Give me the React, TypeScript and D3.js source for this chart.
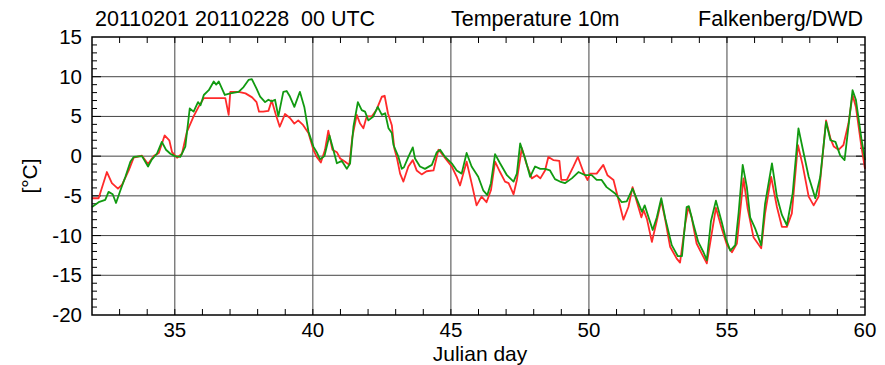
import React from 'react';
import * as d3 from 'd3';

const redDays = [32.0, 32.24, 32.54, 32.72, 32.94, 33.09, 33.33, 33.51, 33.81, 34.03, 34.23, 34.42, 34.63, 34.8, 34.9, 35.08, 35.26, 35.44, 35.68, 35.86, 36.05, 36.35, 36.59, 36.83, 36.95, 37.01, 37.31, 37.56, 37.8, 37.96, 38.05, 38.2, 38.39, 38.51, 38.66, 38.8, 38.99, 39.17, 39.33, 39.47, 39.65, 39.84, 40.02, 40.14, 40.29, 40.44, 40.56, 40.71, 40.87, 40.99, 41.17, 41.32, 41.43, 41.59, 41.71, 41.83, 41.95, 42.13, 42.3, 42.5, 42.6, 42.72, 42.86, 42.95, 43.05, 43.16, 43.28, 43.46, 43.62, 43.76, 43.94, 44.12, 44.37, 44.55, 44.67, 44.85, 45.03, 45.21, 45.33, 45.45, 45.57, 45.75, 45.93, 46.11, 46.29, 46.45, 46.6, 46.78, 46.96, 47.09, 47.27, 47.39, 47.57, 47.73, 47.93, 48.11, 48.24, 48.41, 48.53, 48.71, 48.93, 49.0, 49.2, 49.44, 49.6, 49.8, 49.95, 50.04, 50.28, 50.52, 50.67, 50.89, 51.07, 51.25, 51.43, 51.58, 51.74, 51.9, 51.98, 52.1, 52.28, 52.46, 52.62, 52.77, 52.94, 53.18, 53.3, 53.49, 53.6, 53.72, 53.9, 54.09, 54.27, 54.45, 54.6, 54.81, 55.0, 55.18, 55.36, 55.6, 55.75, 55.96, 56.24, 56.38, 56.6, 56.81, 56.99, 57.17, 57.35, 57.57, 57.74, 57.96, 58.14, 58.32, 58.59, 58.75, 58.87, 59.04, 59.22, 59.4, 59.55, 59.67, 59.87, 60.0];
const redTemp = [-5.3, -5.3, -2.0, -3.4, -4.1, -3.6, -1.8, -0.2, 0.05, -1.0, 0, 0.4, 2.6, 2.0, 0.5, -0.2, 0.3, 3.1, 5.0, 6.2, 7.3, 7.3, 7.3, 7.3, 5.2, 8.1, 8.1, 7.9, 7.4, 6.8, 5.6, 5.6, 5.7, 7.0, 5.2, 3.7, 5.3, 4.8, 4.1, 4.5, 3.9, 2.9, 0.8, -0.1, -0.8, 0.8, 3.2, 0.8, 0.5, -0.3, -0.7, -1.1, 2.4, 5.2, 4.1, 3.5, 5.0, 5.0, 5.8, 7.5, 7.6, 5.4, 3.9, 1.0, -0.3, -2.2, -3.2, -1.3, -0.5, -1.8, -2.3, -1.9, -1.8, 0.8, 0.3, -0.5, -1.3, -2.6, -3.7, -2.2, -0.7, -3.4, -6.2, -5.1, -5.8, -4.3, -0.7, -2.0, -3.2, -3.4, -4.8, -3.0, 1.0, -0.9, -2.8, -2.4, -2.8, -1.8, -0.1, -0.5, -0.6, -3.0, -3.0, -1.3, -0.1, -2.0, -3.0, -2.2, -2.2, -1.1, -2.4, -3.0, -5.5, -8.0, -6.4, -3.9, -5.8, -7.7, -6.8, -7.9, -10.8, -8.1, -5.6, -8.1, -11.4, -12.9, -13.4, -8.5, -6.4, -7.7, -11.0, -12.3, -13.5, -9.7, -6.5, -9.1, -11.2, -12.1, -11.0, -2.8, -6.6, -10.2, -11.6, -7.2, -2.6, -6.4, -8.9, -8.9, -7.2, 1.4, -1.1, -5.1, -6.2, -5.1, 4.5, 2.2, 1.2, 0.8, 1.4, 4.1, 7.7, 6.2, 1.2, -1.6];

const greenDays = [32.0, 32.24, 32.48, 32.6, 32.75, 32.87, 33.03, 33.21, 33.39, 33.51, 33.81, 34.03, 34.17, 34.35, 34.53, 34.68, 34.84, 35.0, 35.2, 35.38, 35.54, 35.68, 35.84, 35.93, 36.05, 36.23, 36.41, 36.5, 36.59, 36.81, 37.01, 37.31, 37.49, 37.67, 37.79, 37.96, 38.09, 38.27, 38.39, 38.51, 38.63, 38.75, 38.93, 39.05, 39.17, 39.33, 39.53, 39.69, 39.84, 40.02, 40.14, 40.26, 40.42, 40.6, 40.71, 40.87, 41.05, 41.23, 41.35, 41.47, 41.63, 41.77, 41.89, 42.01, 42.19, 42.35, 42.5, 42.62, 42.74, 42.86, 42.92, 43.1, 43.22, 43.3, 43.46, 43.62, 43.7, 43.88, 44.06, 44.31, 44.49, 44.61, 44.79, 45.03, 45.21, 45.39, 45.57, 45.75, 45.99, 46.17, 46.32, 46.45, 46.6, 46.78, 47.03, 47.27, 47.39, 47.51, 47.69, 47.87, 48.05, 48.24, 48.41, 48.59, 48.77, 48.95, 49.13, 49.38, 49.62, 49.87, 50.1, 50.28, 50.46, 50.64, 50.95, 51.19, 51.37, 51.58, 51.78, 51.92, 52.02, 52.16, 52.31, 52.46, 52.62, 52.77, 53.0, 53.22, 53.37, 53.54, 53.62, 53.78, 53.96, 54.15, 54.27, 54.42, 54.6, 54.81, 54.96, 55.12, 55.3, 55.42, 55.57, 55.72, 55.84, 56.02, 56.24, 56.38, 56.63, 56.81, 56.99, 57.17, 57.38, 57.59, 57.74, 57.96, 58.2, 58.38, 58.59, 58.75, 58.93, 59.1, 59.26, 59.4, 59.55, 59.67, 59.87, 60.0];
const greenTemp = [-6.4, -5.8, -5.5, -4.5, -4.8, -5.9, -4.3, -2.6, -0.7, -0.1, 0, -1.3, -0.4, 0.3, 1.8, 0.8, 0.3, 0, -0.1, 1.2, 6.0, 5.6, 6.8, 6.4, 7.7, 8.3, 9.4, 9.0, 9.4, 7.7, 7.9, 8.1, 8.7, 9.6, 9.7, 8.5, 7.5, 6.8, 7.1, 6.9, 7.1, 5.0, 8.1, 8.2, 7.5, 6.2, 8.1, 6.2, 3.1, 1.2, 0.5, -0.4, 0, 2.6, 1.2, -0.9, -0.6, -1.6, -0.9, 3.7, 6.8, 5.8, 5.6, 4.5, 5.0, 6.2, 5.2, 5.4, 3.5, 2.9, 1.4, -0.1, -1.6, -1.4, -0.1, 1.1, -0.3, -1.3, -1.6, -1.1, 0.5, 0.8, -0.1, -0.9, -1.8, -2.2, 0.4, -1.3, -2.6, -4.3, -4.9, -3.4, 0.25, -0.9, -2.4, -3.2, -2.2, 1.6, -0.3, -2.6, -1.3, -1.6, -1.6, -1.8, -2.9, -3.2, -3.4, -2.8, -2.0, -2.4, -2.4, -3.0, -3.0, -3.9, -4.7, -5.8, -5.7, -4.1, -5.8, -7.0, -6.2, -7.7, -9.3, -7.7, -5.3, -7.9, -11.2, -12.6, -12.6, -6.4, -6.3, -8.5, -10.8, -12.1, -13.1, -8.2, -5.6, -8.3, -10.4, -11.9, -11.2, -7.2, -1.1, -3.9, -7.7, -9.1, -11.2, -6.0, -0.9, -5.1, -7.4, -8.7, -4.7, 3.5, 1.0, -2.6, -5.3, -2.6, 4.3, 2.0, 1.8, 0.1, -0.5, 3.7, 8.3, 7.1, 2.2, -0.5];

const xTicks = [35, 40, 45, 50, 55, 60];
const yTicks = [-20, -15, -10, -5, 0, 5, 10, 15];

const W = 885;
const H = 365;
const left = 92;
const right = 865;
const top = 37;
const bottom = 315;

const font = '"Liberation Sans", Arial, Helvetica, sans-serif';

export default function App() {
  const x = d3.scaleLinear().domain([32, 60]).range([left, right]);
  const y = d3.scaleLinear().domain([-20, 15]).range([bottom, top]);

  const line = d3.line<[number, number]>()
    .x(d => x(d[0]))
    .y(d => y(d[1]));

  const red = redDays.map((d, i) => [d, redTemp[i]] as [number, number]);
  const green = greenDays.map((d, i) => [d, greenTemp[i]] as [number, number]);

  const minorX = d3.range(33, 60, 1);
  const minorY = d3.range(-19, 15, 1);

  return (
    <svg width={W} height={H} style={{ position: 'absolute', left: 0, top: 0, background: '#fff' }}>
      {/* grid */}
      {xTicks.filter(t => t < 60).map(t => (
        <line key={'gx' + t} x1={x(t)} x2={x(t)} y1={top} y2={bottom} stroke="#444" strokeWidth={1} />
      ))}
      {yTicks.filter(t => t > -20 && t < 15).map(t => (
        <line key={'gy' + t} x1={left} x2={right} y1={y(t)} y2={y(t)} stroke="#444" strokeWidth={1} />
      ))}

      {/* minor ticks, inward on all four sides */}
      {minorX.map(t => (
        <g key={'tx' + t}>
          <line x1={x(t)} x2={x(t)} y1={bottom} y2={bottom - 6} stroke="#000" />
          <line x1={x(t)} x2={x(t)} y1={top} y2={top + 6} stroke="#000" />
        </g>
      ))}
      {minorY.map(t => (
        <g key={'ty' + t}>
          <line x1={left} x2={left + (t % 5 === 0 ? 9 : 5)} y1={y(t)} y2={y(t)} stroke="#000" />
          <line x1={right} x2={right - (t % 5 === 0 ? 9 : 5)} y1={y(t)} y2={y(t)} stroke="#000" />
        </g>
      ))}

      {/* series */}
      <path d={line(red) ?? ''} fill="none" stroke="#ff2a2a" strokeWidth={1.8} strokeLinejoin="round" />
      <path d={line(green) ?? ''} fill="none" stroke="#119a11" strokeWidth={1.8} strokeLinejoin="round" />

      {/* frame */}
      <rect x={left} y={top} width={right - left} height={bottom - top} fill="none" stroke="#000" strokeWidth={1.5} />

      {/* tick labels */}
      {xTicks.map(t => (
        <text key={'lx' + t} x={x(t)} y={bottom + 22} textAnchor="middle" fontFamily={font} fontSize={20.5}>{t}</text>
      ))}
      {yTicks.map(t => (
        <text key={'ly' + t} x={left - 10} y={y(t) + 7} textAnchor="end" fontFamily={font} fontSize={20.5}>{t}</text>
      ))}

      {/* titles */}
      <text x={95} y={26} fontFamily={font} fontSize={21.5}>{'20110201 20110228\u00a0\u00a000 UTC'}</text>
      <text x={451} y={26} fontFamily={font} fontSize={21.5}>Temperature 10m</text>
      <text x={863} y={26} textAnchor="end" fontFamily={font} fontSize={21.5}>Falkenberg/DWD</text>
      <text x={480} y={361} textAnchor="middle" fontFamily={font} fontSize={21}>Julian day</text>
      <text transform={`translate(37,${(top + bottom) / 2}) rotate(-90)`} textAnchor="middle" fontFamily={font} fontSize={21}>[°C]</text>
    </svg>
  );
}
